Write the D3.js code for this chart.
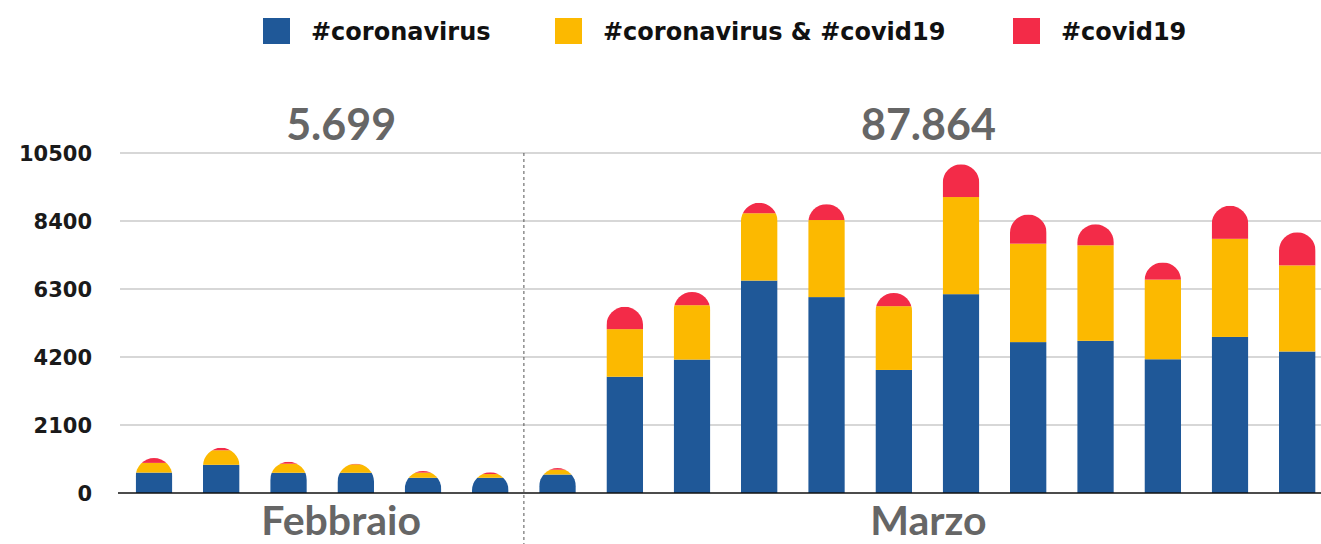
<!DOCTYPE html>
<html>
<head>
<meta charset="utf-8">
<script src="https://cdn.jsdelivr.net/npm/d3@7"></script>
<style>
  html, body { margin: 0; padding: 0; background: #fff; }
  svg { display: block; }
</style>
</head>
<body>
<div id="chart"></div>
<script>
// days shown, Febbraio then Marzo
const days = ["24", "25", "26", "27", "28", "29",
  "1", "2", "3", "4", "5", "6", "7", "8", "9", "10", "11", "12"];
const months = ["Febbraio", "Marzo"];
const monthDays = [6, 12];
const monthTotals = ["5.699", "87.864"];

const seriesNames = ["#coronavirus", "#coronavirus & #covid19", "#covid19"];
const coronavirus = [630, 870, 625, 625, 470, 470,
  570, 3590, 4120, 6560, 6050, 3800, 6140, 4660, 4700, 4130, 4820, 4370];
const both = [300, 450, 280, 260, 160, 115,
  150, 1470, 1680, 2080, 2380, 1970, 3000, 3040, 2950, 2460, 3030, 2660];
const covid19 = [150, 75, 60, 20, 50, 55,
  50, 690, 410, 320, 490, 410, 1010, 900, 650, 530, 1020, 1020];

const yTicks = [0, 2100, 4200, 6300, 8400, 10500];
const colors = ["#1f5898", "#fcb900", "#f32b48"];

const width = 1321, height = 544;
const plotLeft = 120, plotRight = 1321;
const y0 = 493, y1 = 153;

const svg = d3.select("#chart").append("svg")
  .attr("width", width)
  .attr("height", height);

const rows = days.map((d, i) => ({
  day: i,
  [seriesNames[0]]: coronavirus[i],
  [seriesNames[1]]: both[i],
  [seriesNames[2]]: covid19[i],
}));

const stack = d3.stack().keys(seriesNames);
const series = stack(rows);

const x = d3.scaleBand()
  .domain(d3.range(days.length))
  .range([120.4, 1330.9])
  .paddingInner(0.456)
  .paddingOuter(0.228);

const y = d3.scaleLinear().domain([0, 10500]).range([y0, y1]);

// grid lines
svg.append("g")
  .selectAll("line")
  .data(yTicks.filter((t) => t > 0))
  .join("line")
  .attr("x1", plotLeft)
  .attr("x2", plotRight)
  .attr("y1", (d) => y(d))
  .attr("y2", (d) => y(d))
  .attr("stroke", "#cacaca")
  .attr("stroke-width", 1.5);

// y labels
svg.append("g")
  .selectAll("text")
  .data(yTicks)
  .join("text")
  .attr("x", 92)
  .attr("y", (d) => y(d))
  .attr("dy", "0.36em")
  .attr("text-anchor", "end")
  .style("font-family", "'DejaVu Sans', sans-serif")
  .style("font-weight", "bold")
  .style("font-size", "21px")
  .style("fill", "#1a1a1a")
  .text((d) => d);

// month divider
const bw = x.bandwidth();
const divX = (x(monthDays[0] - 1) + bw + x(monthDays[0])) / 2;
svg.append("line")
  .attr("x1", divX)
  .attr("x2", divX)
  .attr("y1", y1)
  .attr("y2", height)
  .attr("stroke", "#555")
  .attr("stroke-width", 1)
  .attr("stroke-dasharray", "3,3");

// rounded-top clip per bar
const totals = rows.map((r, i) => coronavirus[i] + both[i] + covid19[i]);
const defs = svg.append("defs");
defs.selectAll("clipPath")
  .data(totals)
  .join("clipPath")
  .attr("id", (d, i) => "bar-clip-" + i)
  .append("path")
  .attr("d", (d, i) => {
    const left = x(i), right = x(i) + bw;
    const top = y(d), bottom = y(0);
    const r = Math.min(bw / 2, bottom - top);
    return `M${left},${bottom}V${top + r}` +
      `A${bw / 2},${r} 0 0 1 ${right},${top + r}` +
      `V${bottom}Z`;
  });

const bars = svg.append("g")
  .selectAll("g")
  .data(rows)
  .join("g")
  .attr("clip-path", (d, i) => `url(#bar-clip-${i})`);

bars.selectAll("rect")
  .data((d, i) => series.map((s, k) => ({ seg: s[i], k: k, i: i })))
  .join("rect")
  .attr("x", (d) => x(d.i))
  .attr("width", bw)
  .attr("y", (d) => y(d.seg[1]))
  .attr("height", (d) => y(d.seg[0]) - y(d.seg[1]))
  .attr("fill", (d) => colors[d.k]);

// baseline
svg.append("line")
  .attr("x1", 118)
  .attr("x2", plotRight)
  .attr("y1", y0)
  .attr("y2", y0)
  .attr("stroke", "#111")
  .attr("stroke-width", 1.5);

// month totals and names
const monthStart = [0, monthDays[0]];
const monthCenter = months.map((m, k) => {
  const a = x(monthStart[k]);
  const b = x(monthStart[k] + monthDays[k] - 1) + bw;
  return (a + b) / 2 + (k === 0 ? 19 : 1);
});

svg.append("g")
  .selectAll("text")
  .data(monthTotals)
  .join("text")
  .attr("x", (d, k) => monthCenter[k])
  .attr("y", 140)
  .attr("text-anchor", "middle")
  .style("font-family", "Lato, sans-serif")
  .style("font-weight", "bold")
  .style("font-size", "43px")
  .style("fill", "#666")
  .text((d) => d);

svg.append("g")
  .selectAll("text")
  .data(months)
  .join("text")
  .attr("x", (d, k) => monthCenter[k])
  .attr("y", 535)
  .attr("text-anchor", "middle")
  .style("font-family", "Lato, sans-serif")
  .style("font-weight", "bold")
  .style("font-size", "41px")
  .style("fill", "#666")
  .text((d) => d);

// legend
const legendX = [263, 555, 1013];
const legend = svg.append("g")
  .selectAll("g")
  .data(seriesNames)
  .join("g")
  .attr("transform", (d, k) => `translate(${legendX[k]},18)`);

legend.append("rect")
  .attr("width", 27)
  .attr("height", 26)
  .attr("fill", (d, k) => colors[k]);

legend.append("text")
  .attr("x", 48)
  .attr("y", 13)
  .attr("dy", "0.36em")
  .style("font-family", "'DejaVu Sans', sans-serif")
  .style("font-weight", "bold")
  .style("font-size", "24px")
  .style("fill", "#111")
  .text((d) => d);
</script>
</body>
</html>
